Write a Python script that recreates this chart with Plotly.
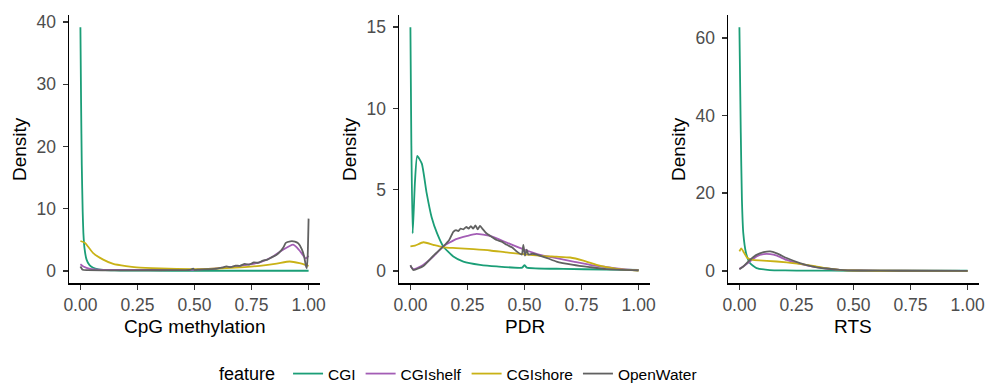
import plotly.graph_objects as go

features = ["CGI", "CGIshelf", "CGIshore", "OpenWater"]
colors = {"CGI": "#1b9e77", "CGIshelf": "#a35db5", "CGIshore": "#c9b216", "OpenWater": "#616161"}
panel_titles = ["CpG methylation", "PDR", "RTS"]

# ---------------- CpG methylation ----------------
cpg_cgi_x = [0, 0.003, 0.006, 0.01, 0.013, 0.018, 0.027, 0.04, 0.056, 0.08, 0.1, 0.15, 0.2, 0.3, 0.5, 0.7, 0.9, 1.0]
cpg_cgi_y = [39.2, 27, 17, 9.5, 6.1, 3.6, 1.8, 0.9, 0.5, 0.25, 0.15, 0.06, 0.03, 0.02, 0.01, 0.01, 0.01, 0.01]

cpg_shelf_x = [0, 0.013, 0.042, 0.1, 0.2, 0.3, 0.4, 0.494, 0.56, 0.64, 0.728, 0.786, 0.844, 0.888, 0.917, 0.932, 0.947, 0.969, 0.987, 1.0]
cpg_shelf_y = [1.05, 0.7, 0.32, 0.16, 0.14, 0.13, 0.14, 0.16, 0.3, 0.55, 0.97, 1.35, 2.3, 3.4, 4.0, 4.2, 3.8, 2.85, 2.0, 2.4]

cpg_shore_x = [0, 0.02, 0.056, 0.1, 0.144, 0.2, 0.246, 0.35, 0.494, 0.56, 0.64, 0.72, 0.786, 0.86, 0.917, 0.96, 1.0]
cpg_shore_y = [4.8, 4.5, 2.85, 1.8, 1.1, 0.75, 0.55, 0.38, 0.27, 0.32, 0.43, 0.6, 0.8, 1.15, 1.5, 1.24, 0.8]

cpg_ow_x = [0, 0.01, 0.03, 0.1, 0.2, 0.3, 0.4, 0.48, 0.494, 0.5, 0.52, 0.56, 0.6, 0.62, 0.64, 0.66, 0.68, 0.70, 0.72, 0.74,
            0.76, 0.78, 0.80, 0.82, 0.84, 0.86, 0.88, 0.89, 0.9, 0.92, 0.94, 0.955, 0.97, 0.98, 0.988, 0.992, 0.996, 1.0]
cpg_ow_y = [0.7, 0.16, 0.1, 0.08, 0.08, 0.09, 0.1, 0.15, 0.35, 0.15, 0.2, 0.25, 0.35, 0.5, 0.7, 0.6, 0.85, 0.8, 1.1, 1.0,
            1.35, 1.3, 1.65, 1.8, 2.2, 2.6, 3.3, 3.8, 4.5, 4.75, 4.7, 4.4, 3.5, 2.4, 0.8, 0.4, 2.4, 8.4]

# ---------------- PDR ----------------
pdr_cgi_x = [0, 0.004, 0.01, 0.02, 0.03, 0.05, 0.071, 0.093, 0.117, 0.144, 0.188, 0.232, 0.305, 0.378, 0.49, 0.5, 0.51, 0.67, 0.85, 1.0]
pdr_cgi_y = [15.0, 8.0, 2.3, 5.5, 7.07, 6.6, 4.8, 3.3, 2.3, 1.5, 0.88, 0.57, 0.37, 0.27, 0.2, 0.35, 0.2, 0.12, 0.08, 0.06]

pdr_shelf_x = [0, 0.013, 0.057, 0.1, 0.144, 0.2, 0.25, 0.29, 0.349, 0.422, 0.495, 0.568, 0.64, 0.714, 0.786, 0.86, 0.933, 1.0]
pdr_shelf_y = [0.3, 0.1, 0.37, 0.88, 1.5, 1.95, 2.15, 2.27, 2.15, 1.74, 1.33, 0.98, 0.78, 0.57, 0.37, 0.23, 0.1, 0.04]

pdr_shore_x = [0, 0.02, 0.057, 0.1, 0.144, 0.2, 0.276, 0.35, 0.422, 0.5, 0.568, 0.64, 0.7, 0.758, 0.816, 0.86, 0.904, 0.95, 1.0]
pdr_shore_y = [1.5, 1.55, 1.76, 1.6, 1.45, 1.4, 1.33, 1.25, 1.13, 1.02, 0.92, 0.87, 0.82, 0.63, 0.37, 0.22, 0.12, 0.06, 0.02]

pdr_ow_x = [0, 0.013, 0.057, 0.1, 0.144, 0.17, 0.188, 0.2, 0.21, 0.22, 0.232, 0.245, 0.255, 0.265, 0.275, 0.285, 0.295, 0.305, 0.315,
            0.334, 0.35, 0.378, 0.4, 0.422, 0.445, 0.466, 0.488, 0.495, 0.502, 0.51, 0.517, 0.535, 0.553, 0.6, 0.64, 0.714, 0.786, 0.86, 1.0]
pdr_ow_y = [0.35, 0.05, 0.3, 0.92, 1.5, 1.9, 2.4, 2.5, 2.45, 2.6, 2.55, 2.7, 2.6, 2.75, 2.6, 2.8, 2.55, 2.77, 2.6,
            2.3, 2.15, 1.9, 1.8, 1.6, 1.45, 1.19, 1.0, 1.6, 0.93, 1.3, 1.0, 1.05, 1.0, 0.78, 0.57, 0.37, 0.23, 0.1, 0.02]

# ---------------- RTS ----------------
rts_cgi_x = [0, 0.006, 0.011, 0.017, 0.029, 0.046, 0.075, 0.133, 0.2, 0.3, 0.5, 1.0]
rts_cgi_y = [62.8, 35.5, 18.3, 9.7, 4.6, 2.0, 0.7, 0.2, 0.1, 0.05, 0.02, 0.02]

rts_shelf_x = [0, 0.017, 0.046, 0.075, 0.106, 0.135, 0.164, 0.207, 0.265, 0.323, 0.38, 0.44, 0.53, 0.7, 1.0]
rts_shelf_y = [0.5, 1.1, 2.4, 3.7, 4.3, 4.3, 3.9, 2.8, 1.8, 1.1, 0.6, 0.26, 0.08, 0.02, 0.01]

rts_shore_x = [0, 0.008, 0.017, 0.035, 0.06, 0.12, 0.207, 0.265, 0.323, 0.38, 0.44, 0.5, 0.6, 1.0]
rts_shore_y = [5.0, 5.8, 5.0, 3.3, 2.8, 2.58, 2.2, 1.8, 1.3, 0.7, 0.26, 0.08, 0.02, 0.01]

rts_ow_x = [0, 0.017, 0.046, 0.075, 0.106, 0.135, 0.164, 0.207, 0.265, 0.323, 0.38, 0.44, 0.53, 0.7, 1.0]
rts_ow_y = [0.43, 1.1, 2.8, 4.1, 4.8, 5.0, 4.5, 3.3, 2.0, 1.1, 0.6, 0.26, 0.08, 0.02, 0.01]

x_tick_vals = [0, 0.25, 0.5, 0.75, 1.0]
x_tick_text = ["0.00", "0.25", "0.50", "0.75", "1.00"]
y_tick_vals = [[0, 10, 20, 30, 40], [0, 5, 10, 15], [0, 20, 40, 60]]

panels = [
    {"CGI": (cpg_cgi_x, cpg_cgi_y), "CGIshelf": (cpg_shelf_x, cpg_shelf_y),
     "CGIshore": (cpg_shore_x, cpg_shore_y), "OpenWater": (cpg_ow_x, cpg_ow_y)},
    {"CGI": (pdr_cgi_x, pdr_cgi_y), "CGIshelf": (pdr_shelf_x, pdr_shelf_y),
     "CGIshore": (pdr_shore_x, pdr_shore_y), "OpenWater": (pdr_ow_x, pdr_ow_y)},
    {"CGI": (rts_cgi_x, rts_cgi_y), "CGIshelf": (rts_shelf_x, rts_shelf_y),
     "CGIshore": (rts_shore_x, rts_shore_y), "OpenWater": (rts_ow_x, rts_ow_y)},
]

# body margin is removed by a post script, so the figure fills the window
W, H = 988, 383


def px(x_screen):
    return x_screen / W


def py(y_screen):
    return (H - y_screen) / H


panel_left = [69, 399, 728]
panel_right = [320, 650, 979]
plot_top, plot_bottom = 15, 283

fig = go.Figure()
for i, pdata in enumerate(panels):
    suffix = "" if i == 0 else str(i + 1)
    for f in features:
        xs, ys = pdata[f]
        fig.add_trace(go.Scatter(
            x=xs, y=ys, mode="lines", name=f, legendgroup=f, showlegend=(i == 0),
            line=dict(color=colors[f], width=1.8, shape="spline", smoothing=0.5),
            xaxis="x" + suffix, yaxis="y" + suffix,
        ))

layout = dict(
    width=W, height=H, autosize=False,
    margin=dict(l=0, r=0, t=0, b=0, autoexpand=False),
    paper_bgcolor="white", plot_bgcolor="white",
    font=dict(family="Liberation Sans, Arial, sans-serif", color="black"),
    showlegend=True,
    legend=dict(
        orientation="h", x=px(217), xanchor="left", y=py(374), yanchor="middle",
        title=dict(text="feature ", font=dict(size=18, color="black"), side="left"),
        font=dict(size=15.5, color="black"), bgcolor="rgba(0,0,0,0)",
        traceorder="normal", tracegroupgap=0,
    ),
)

annotations = []
for i in range(3):
    suffix = "" if i == 0 else str(i + 1)
    all_y = [v for f in features for v in panels[i][f][1]]
    ymax = max(all_y)
    layout["xaxis" + suffix] = dict(
        domain=[px(panel_left[i]), px(panel_right[i])],
        range=[-0.05, 1.05], anchor="y" + suffix, automargin=False,
        tickvals=x_tick_vals, ticktext=x_tick_text,
        showline=True, linecolor="black", linewidth=1.5,
        ticks="outside", ticklen=5, tickwidth=1.5, tickcolor="#333333",
        tickfont=dict(size=17.5, color="#4d4d4d"),
        showgrid=False, zeroline=False, fixedrange=True,
    )
    layout["yaxis" + suffix] = dict(
        domain=[py(plot_bottom), py(plot_top)],
        range=[-0.05 * ymax, 1.05 * ymax], anchor="x" + suffix, automargin=False,
        tickvals=y_tick_vals[i], ticklabelstandoff=3,
        showline=True, linecolor="black", linewidth=1.5,
        ticks="outside", ticklen=5, tickwidth=1.5, tickcolor="#333333",
        tickfont=dict(size=17.5, color="#4d4d4d"),
        showgrid=False, zeroline=False, fixedrange=True,
    )
    annotations.append(dict(
        text=panel_titles[i], xref="paper", yref="paper",
        x=(px(panel_left[i]) + px(panel_right[i])) / 2, y=py(326),
        xanchor="center", yanchor="middle", showarrow=False,
        font=dict(size=19, color="black"),
    ))
    annotations.append(dict(
        text="Density", xref="paper", yref="paper",
        x=px(panel_left[i] - 49), y=py(149), textangle=-90,
        xanchor="center", yanchor="middle", showarrow=False,
        font=dict(size=19, color="black"),
    ))
layout["annotations"] = annotations

fig.update_layout(**layout)
fig.write_html(
    "out.html",
    config={"displayModeBar": False, "staticPlot": True},
    post_script="document.body.style.margin='0';document.body.style.overflow='hidden';",
)
